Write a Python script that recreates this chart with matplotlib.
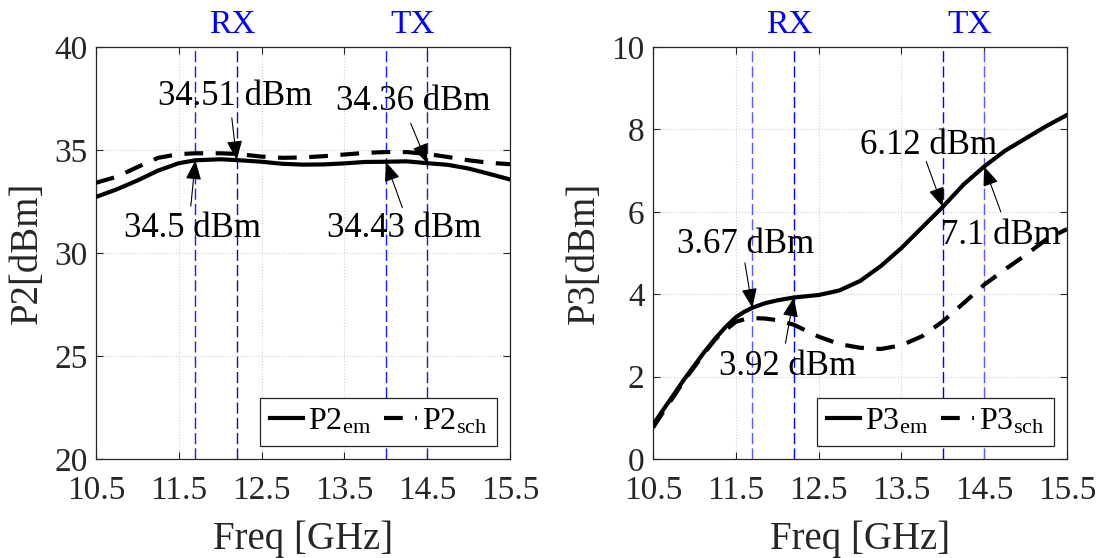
import numpy as np
import matplotlib
matplotlib.use('Agg')
import matplotlib.pyplot as plt
import matplotlib.transforms as mtransforms

plt.rcParams['font.family'] = ['Liberation Serif', 'DejaVu Serif']
plt.rcParams['mathtext.default'] = 'regular'

# P2 output power versus frequency
freq_p2 = [10.5, 10.75, 11.0, 11.25, 11.5, 11.7, 12.0, 12.2, 12.5, 12.75, 13.0,
           13.25, 13.5, 13.75, 14.0, 14.25, 14.5, 14.75, 15.0, 15.25, 15.5]
p2_em = [32.72, 33.09, 33.52, 34.0, 34.36, 34.5, 34.55, 34.51, 34.43, 34.33, 34.29,
         34.3, 34.35, 34.42, 34.43, 34.45, 34.36, 34.28, 34.1, 33.84, 33.57]
p2_sch = [33.41, 33.7, 34.17, 34.62, 34.8, 34.84, 34.84, 34.81, 34.68, 34.62, 34.64,
          34.7, 34.78, 34.86, 34.9, 34.9, 34.81, 34.66, 34.5, 34.38, 34.31]

# P3 output power versus frequency
freq_p3 = [10.5, 10.625, 10.75, 10.875, 11.0, 11.125, 11.25, 11.375, 11.5, 11.6, 11.7,
           11.85, 12.0, 12.2, 12.5, 12.75, 13.0, 13.25, 13.5, 13.75, 14.0, 14.25,
           14.5, 14.75, 15.0, 15.25, 15.5]
p3_em = [0.83, 1.2, 1.56, 1.93, 2.27, 2.61, 2.92, 3.2, 3.44, 3.57, 3.67,
         3.78, 3.85, 3.92, 3.98, 4.09, 4.32, 4.68, 5.12, 5.62, 6.12, 6.66,
         7.1, 7.48, 7.78, 8.08, 8.35]
p3_sch = [0.76, 1.15, 1.52, 1.9, 2.24, 2.58, 2.9, 3.13, 3.33, 3.39, 3.42,
          3.41, 3.37, 3.26, 2.97, 2.79, 2.7, 2.67, 2.76, 2.98, 3.34, 3.78,
          4.23, 4.6, 4.95, 5.33, 5.58]

# RX / TX band edges [GHz]
band_edges = [11.7, 12.2, 14.0, 14.5]
band_names = ['RX', 'TX']
band_label_x = [12.15, 14.33]

# marker annotations: (label, arrow head x, head y, tail x, tail y, text x, text y)
notes_p2 = [('34.51 dBm', 12.2, 34.51, 12.14, 36.56, 12.175, 37.6),
            ('34.36 dBm', 14.5, 34.36, 14.30, 36.30, 14.33, 37.35),
            ('34.5 dBm', 11.7, 34.5, 11.645, 32.28, 11.66, 31.2),
            ('34.43 dBm', 14.0, 34.43, 14.20, 32.20, 14.22, 31.2)]
notes_p3 = [('6.12 dBm', 14.0, 6.12, 13.80, 7.22, 13.825, 7.6),
            ('7.1 dBm', 14.5, 7.1, 14.70, 6.0, 14.70, 5.43),
            ('3.67 dBm', 11.7, 3.67, 11.61, 4.76, 11.615, 5.2),
            ('3.92 dBm', 12.2, 3.92, 12.10, 2.81, 12.12, 2.25)]

fig = plt.figure(figsize=(11.08, 5.58), dpi=100)
ax1 = fig.add_axes([96 / 1108, 99 / 558, 414 / 1108, 412 / 558])
ax2 = fig.add_axes([653 / 1108, 99 / 558, 414 / 1108, 412 / 558])

axis_col = '#262626'


def setup(ax, ylim, yticks, ylabel):
    ax.set_xlim(10.5, 15.5)
    ax.set_ylim(*ylim)
    ax.set_xticks(np.arange(10.5, 15.6, 1.0))
    ax.set_xticklabels(['10.5', '11.5', '12.5', '13.5', '14.5', '15.5'])
    ax.set_yticks(yticks)
    ax.grid(True, ls=':', color='#d0d0d0', lw=0.8)
    ax.set_axisbelow(True)
    ax.tick_params(direction='in', top=True, right=True, length=5, width=0.8,
                   colors=axis_col, labelsize=24)
    ax.tick_params(axis='x', pad=12)
    ax.tick_params(axis='y', pad=6)
    for s in ax.spines.values():
        s.set_color(axis_col)
        s.set_linewidth(0.9)
    ax.set_xlabel('Freq [GHz]', fontsize=28, color=axis_col)
    ax.set_ylabel(ylabel, fontsize=28, color=axis_col, va='center')
    ax.xaxis.set_label_coords(0.5, -0.15)
    ax.yaxis.set_label_coords(-0.165, 0.5)


def bands(ax, colors):
    for x, c in zip(band_edges, colors):
        ax.axvline(x, color=c, lw=1.0, ls=(0, (8, 3)), zorder=1)
    trans = mtransforms.blended_transform_factory(ax.transData, ax.transAxes)
    for name, x in zip(band_names, band_label_x):
        ax.text(x, 1.055, name, transform=trans, color='#0000ff', fontsize=24,
                ha='center', va='center')


def notes(ax, items):
    for txt, hx, hy, tx, ty, lx, ly in items:
        ax.annotate('', xy=(hx, hy), xytext=(tx, ty),
                    arrowprops=dict(arrowstyle='-|>,head_length=1.0,head_width=0.4',
                                    color='k', lw=0.8, mutation_scale=12,
                                    shrinkA=0, shrinkB=0), zorder=4)
        ax.text(lx, ly, txt, fontsize=25, ha='center', va='center', color='k', zorder=5)


# left panel: P2
setup(ax1, (20, 40), np.arange(20, 41, 5), 'P2[dBm]')
bands(ax1, ['#1a1aff', '#14148c', '#1a1aff', '#2020b0'])
ax1.plot(freq_p2, p2_em, 'k-', lw=3, label='P2$_{em}$', zorder=3)
ax1.plot(freq_p2, p2_sch, 'k', lw=3, ls=(0, (4.5, 3)), label='P2$_{sch}$', zorder=3)
notes(ax1, notes_p2)

# right panel: P3
setup(ax2, (0, 10), np.arange(0, 11, 2), 'P3[dBm]')
bands(ax2, ['#5a5aff', '#0000ff', '#0000ff', '#5a5aff'])
ax2.plot(freq_p3, p3_em, 'k-', lw=3, label='P3$_{em}$', zorder=3)
ax2.plot(freq_p3, p3_sch, 'k', lw=3, ls=(0, (4.5, 3)), label='P3$_{sch}$', zorder=6)
notes(ax2, notes_p3)

for ax in (ax1, ax2):
    leg = ax.legend(loc='lower right', ncol=2, fontsize=23, handlelength=1.05,
                    handletextpad=0.15, columnspacing=0.4, borderpad=0.3,
                    borderaxespad=0.4, fancybox=False, framealpha=1,
                    edgecolor=axis_col)
    leg.get_frame().set_linewidth(0.9)
    leg.set_zorder(7)

fig.savefig('out.png', dpi=100)
